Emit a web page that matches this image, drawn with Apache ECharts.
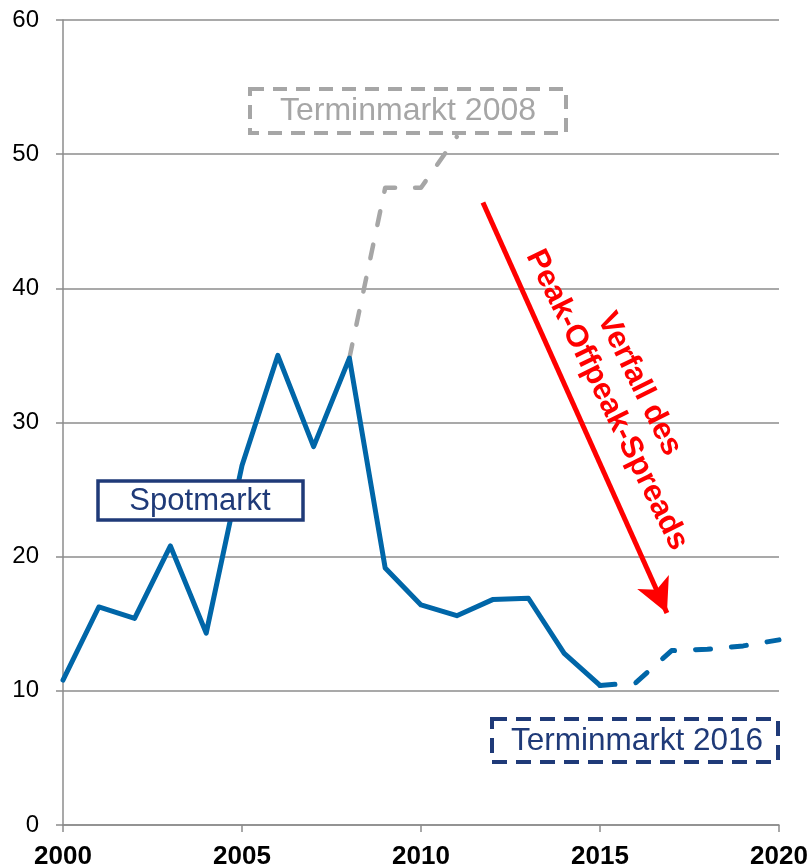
<!DOCTYPE html>
<html>
<head>
<meta charset="utf-8">
<title>Spread</title>
<script src="https://cdn.jsdelivr.net/npm/echarts@6/dist/echarts.min.js"></script>
<style>
  html, body { margin: 0; padding: 0; background: #fff; }
  #chart { width: 811px; height: 868px; }
</style>
</head>
<body>
<div id="chart"></div>
<script>
// Spotmarkt (Jahresmittel)
const spotYears = [2000, 2001, 2002, 2003, 2004, 2005, 2006, 2007, 2008, 2009, 2010, 2011, 2012, 2013, 2014, 2015]
const spotValues = [10.8, 16.25, 15.4, 20.8, 14.3, 26.8, 35.0, 28.2, 34.8, 19.15, 16.4, 15.6, 16.8, 16.9, 12.8, 10.4]
// Terminmarkt 2008
const t2008Years = [2008, 2009, 2010, 2011]
const t2008Values = [34.8, 47.5, 47.5, 51.3]
// Terminmarkt 2016
const t2016Years = [2015, 2016, 2017, 2018, 2019, 2020]
const t2016Values = [10.4, 10.6, 13.0, 13.1, 13.35, 13.8]
// Pfeil: Verfall des Spreads
const arrowFrom = [2011.73, 46.4]
const arrowTo = [2016.87, 15.8]

const blue = '#0066A8'
const navy = '#1F3A78'
const grey = '#A6A6A6'
const axisGrey = '#8C8C8C'
const font = '"Liberation Sans", Arial, sans-serif'

function pairs(xs, ys) {
  return xs.map((x, i) => [x, ys[i]])
}

const myChart = echarts.init(document.getElementById('chart'))
myChart.setOption({
  animation: false,
  grid: { left: 63, right: 32, top: 20, bottom: 43, containLabel: false, outerBoundsMode: 'none' },
  xAxis: {
    type: 'value',
    min: 2000,
    max: 2020,
    interval: 5,
    axisLine: { show: true, lineStyle: { color: axisGrey, width: 1.5 } },
    axisTick: { show: true, length: 7, lineStyle: { color: axisGrey, width: 1.5 } },
    splitLine: { show: false },
    axisLabel: {
      margin: 19,
      color: '#000',
      fontFamily: font,
      fontWeight: 'bold',
      fontSize: 26,
      formatter: function(v) { return String(v) }
    }
  },
  yAxis: {
    type: 'value',
    min: 0,
    max: 60,
    interval: 10,
    axisLine: { show: true, lineStyle: { color: axisGrey, width: 1.5 } },
    axisTick: { show: true, length: 7, lineStyle: { color: axisGrey, width: 1.5 } },
    splitLine: { show: true, lineStyle: { color: axisGrey, width: 1.5 } },
    axisLabel: {
      margin: 24,
      color: '#000',
      fontFamily: font,
      fontSize: 24
    }
  },
  series: [
    {
      name: 'Terminmarkt 2008',
      type: 'line',
      data: pairs(t2008Years, t2008Values),
      symbol: 'none',
      lineStyle: { color: grey, width: 4.5, type: [14, 20], cap: 'round', join: 'round' },
      z: 2
    },
    {
      name: 'Spotmarkt',
      type: 'line',
      data: pairs(spotYears, spotValues),
      symbol: 'none',
      lineStyle: { color: blue, width: 5, cap: 'round', join: 'round' },
      z: 3,
      markLine: {
        silent: true,
        symbol: ['none', 'arrow'],
        symbolSize: [26, 34],
        label: { show: false },
        lineStyle: { color: '#FF0000', width: 5, type: 'solid' },
        data: [[{ coord: arrowFrom }, { coord: arrowTo }]]
      }
    },
    {
      name: 'Terminmarkt 2016',
      type: 'line',
      data: pairs(t2016Years, t2016Values),
      symbol: 'none',
      lineStyle: { color: blue, width: 5, type: [15, 21], cap: 'round', join: 'round' },
      z: 3
    }
  ],
  graphic: [
    {
      type: 'rect',
      z: 100,
      shape: { x: 98, y: 481, width: 205, height: 39 },
      style: { fill: '#fff', stroke: navy, lineWidth: 3.5 }
    },
    {
      type: 'text',
      z: 101,
      x: 200, y: 501,
      style: { text: 'Spotmarkt', font: '31px ' + font, fill: navy, align: 'center', verticalAlign: 'middle' }
    },
    {
      type: 'rect',
      z: 100,
      shape: { x: 250, y: 89, width: 316, height: 44 },
      style: { fill: '#fff', stroke: grey, lineWidth: 4, lineDash: [14, 9] }
    },
    {
      type: 'text',
      z: 101,
      x: 408, y: 111,
      style: { text: 'Terminmarkt 2008', font: '32px ' + font, fill: grey, align: 'center', verticalAlign: 'middle' }
    },
    {
      type: 'rect',
      z: 100,
      shape: { x: 492, y: 719, width: 286, height: 43 },
      style: { fill: '#fff', stroke: navy, lineWidth: 4, lineDash: [15, 9] }
    },
    {
      type: 'text',
      z: 101,
      x: 637, y: 741,
      style: { text: 'Terminmarkt 2016', font: '31.5px ' + font, fill: navy, align: 'center', verticalAlign: 'middle' }
    },
    {
      type: 'text',
      z: 101,
      x: 623, y: 392,
      rotation: -1.112,
      style: {
        text: 'Verfall des\nPeak-Offpeak-Spreads',
        font: 'bold 31px ' + font,
        lineHeight: 36,
        fill: '#FF0000',
        align: 'center',
        verticalAlign: 'middle'
      }
    }
  ]
})
window.addEventListener('resize', function() {
  myChart.resize()
})
</script>
</body>
</html>
